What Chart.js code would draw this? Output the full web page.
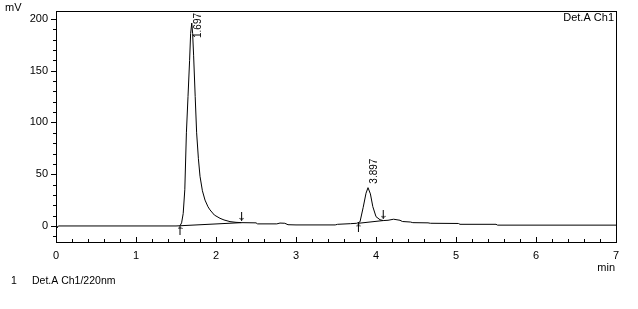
<!DOCTYPE html>
<html>
<head>
<meta charset="utf-8">
<script src="https://cdn.jsdelivr.net/npm/chart.js@4/dist/chart.umd.min.js"></script>
<style>
  html, body { margin: 0; padding: 0; background: #fff; }
  #wrap { width: 638px; height: 309px; }
</style>
</head>
<body>
<div id="wrap"><canvas id="chrom" width="638" height="309"></canvas></div>
<script>
// chromatogram trace, time (min) / signal (mV)
var traceTime = [0, 0.01, 0.03, 0.5, 1.0, 1.5, 1.55, 1.57, 1.59, 1.61, 1.63, 1.65, 1.67, 1.683, 1.697,
  1.708, 1.72, 1.74, 1.758, 1.78, 1.8, 1.83, 1.8625, 1.9, 1.925, 1.98, 2.05, 2.1, 2.175, 2.25, 2.32,
  2.5, 2.52, 2.76, 2.8, 2.86, 2.9, 3.0, 3.49, 3.52, 3.68, 3.76, 3.8, 3.84, 3.875, 3.9, 3.93, 3.96,
  4.0, 4.05, 4.09, 4.15, 4.22, 4.3, 4.33, 4.43, 4.46, 4.65, 4.68, 5.03, 5.05, 5.5, 5.52, 7.0];
var traceMv = [0, -2, 0, 0, 0, 0, 0.2, 3, 12, 35, 90, 125, 160, 186, 196,
  186, 165, 125, 90, 65, 48, 34, 25, 18.5, 15.5, 10.5, 7.4, 5.8, 4.2, 3.5, 3.2,
  3.0, 2.0, 2.0, 2.8, 2.6, 1.2, 1.0, 1.0, 1.6, 2.2, 2.6, 4, 18, 31.6, 37, 31, 18.7,
  9, 6, 5.2, 5.5, 6.5, 5.5, 4.3, 3.8, 3.2, 3.0, 2.6, 2.4, 1.6, 1.6, 0.8, 0.8];

// integration: peak start / end points
var peakStartTime = [1.55, 3.78];
var peakStartMv = [0.2, 2.6];
var peakEndTime = [2.32, 4.09];
var peakEndMv = [3.2, 5.2];

// peak tops and their labels
var peakTime = [1.697, 3.9];
var peakMv = [196, 37];
var peakLabel = ["1.697", "3.897"];

var yTickValues = [-10, 0, 10, 20, 30, 40, 50, 60, 70, 80, 90, 100, 110, 120, 130, 140, 150, 160, 170, 180, 190, 200];
var xTickValues = [];
for (var i = 0; i <= 35; i++) xTickValues.push(i / 5);

Chart.defaults.font.family = "'Liberation Sans', Arial, sans-serif";
Chart.defaults.font.size = 11;
Chart.defaults.color = "#000";

function arrowImage(up) {
  var c = document.createElement("canvas");
  c.width = 5; c.height = 9;
  var g = c.getContext("2d");
  g.strokeStyle = "#000";
  g.lineWidth = 1;
  g.beginPath();
  g.moveTo(2.5, 0); g.lineTo(2.5, 9);
  if (up) {
    g.moveTo(0.5, 3); g.lineTo(2.5, 1); g.lineTo(4.5, 3);
  } else {
    g.moveTo(0.5, 6); g.lineTo(2.5, 8); g.lineTo(4.5, 6);
  }
  g.stroke();
  return c;
}

function pts(xs, ys) {
  return xs.map(function (x, k) { return { x: x, y: ys[k] }; });
}

var frame = {
  id: "frame",
  afterDraw: function (chart) {
    var ctx = chart.ctx, a = chart.chartArea;
    var xs = chart.scales.x, ys = chart.scales.y;
    ctx.save();
    ctx.strokeStyle = "#000";
    ctx.lineWidth = 1;
    ctx.strokeRect(a.left + 0.5, a.top + 0.5, a.right - a.left, a.bottom - a.top);
    ctx.beginPath();
    yTickValues.forEach(function (v) {
      var y = Math.round(ys.getPixelForValue(v)) + 0.5;
      var len = v % 50 === 0 ? 5 : 3;
      ctx.moveTo(a.left - len, y); ctx.lineTo(a.left, y);
    });
    xTickValues.forEach(function (v) {
      var x = Math.round(xs.getPixelForValue(v)) + 0.5;
      var len = Math.abs(v - Math.round(v)) < 1e-6 ? 5 : 3;
      ctx.moveTo(x, a.bottom); ctx.lineTo(x, a.bottom - len);
    });
    ctx.stroke();

    ctx.fillStyle = "#000";
    ctx.font = "11px 'Liberation Sans', Arial, sans-serif";
    ctx.textBaseline = "middle";
    ctx.textAlign = "left";
    ctx.fillText("mV", 5, 8);
    ctx.textAlign = "right";
    ctx.fillText("Det.A Ch1", a.right - 2, a.top + 7);
    ctx.fillText("min", a.right - 1, 268);
    ctx.textAlign = "left";
    ctx.font = "10.5px 'Liberation Sans', Arial, sans-serif";
    ctx.fillText("1", 11, 281);
    ctx.fillText("Det.A Ch1/220nm", 32, 281);

    // peak retention time labels, rotated
    ctx.font = "10px 'Liberation Sans', Arial, sans-serif";
    peakLabel.forEach(function (txt, k) {
      var px = xs.getPixelForValue(peakTime[k]) + 6;
      var py = ys.getPixelForValue(peakMv[k]) - 4;
      var w = ctx.measureText(txt).width;
      py = Math.max(py, a.top + 2 + w);
      ctx.save();
      ctx.translate(px, py);
      ctx.rotate(-Math.PI / 2);
      ctx.textAlign = "left";
      ctx.fillText(txt, 0, 0);
      ctx.restore();
    });
    ctx.restore();
  }
};

new Chart(document.getElementById("chrom"), {
  type: "line",
  data: {
    datasets: [
      {
        data: pts(traceTime, traceMv),
        borderColor: "#000", borderWidth: 1, pointRadius: 0, tension: 0
      },
      {
        data: [{ x: peakStartTime[0], y: peakStartMv[0] }, { x: peakEndTime[0], y: peakEndMv[0] }],
        borderColor: "#000", borderWidth: 1, pointRadius: 0
      },
      {
        data: [{ x: peakStartTime[1], y: peakStartMv[1] }, { x: peakEndTime[1], y: peakEndMv[1] }],
        borderColor: "#000", borderWidth: 1, pointRadius: 0
      },
      {
        data: pts(peakStartTime, peakStartMv.map(function (v) { return v - 4.5; })),
        showLine: false, pointStyle: arrowImage(true), pointRadius: 4
      },
      {
        data: pts(peakEndTime, peakEndMv.map(function (v) { return v + 6; })),
        showLine: false, pointStyle: arrowImage(false), pointRadius: 4
      }
    ]
  },
  options: {
    responsive: false,
    animation: false,
    layout: { padding: { top: 11, right: 22, left: 0, bottom: 0 } },
    plugins: { legend: { display: false }, tooltip: { enabled: false } },
    scales: {
      x: {
        type: "linear", min: 0, max: 7,
        afterBuildTicks: function (s) { s.ticks = xTickValues.map(function (v) { return { value: v }; }); },
        afterFit: function (s) { s.height = 67; s.paddingLeft = 0; s.paddingRight = 0; },
        grid: { display: false, drawTicks: false },
        border: { display: false },
        ticks: {
          autoSkip: false, maxRotation: 0, padding: 7,
          callback: function (v) { return Math.abs(v - Math.round(v)) < 1e-6 ? Math.round(v) : ""; }
        }
      },
      y: {
        min: -15.5, max: 207.7,
        afterBuildTicks: function (s) { s.ticks = yTickValues.map(function (v) { return { value: v }; }); },
        afterFit: function (s) { s.width = 56; s.paddingTop = 0; s.paddingBottom = 0; },
        grid: { display: false, drawTicks: false },
        border: { display: false },
        ticks: {
          autoSkip: false, padding: 8,
          callback: function (v) { return v % 50 === 0 ? v : ""; }
        }
      }
    }
  },
  plugins: [frame]
});
</script>
</body>
</html>
